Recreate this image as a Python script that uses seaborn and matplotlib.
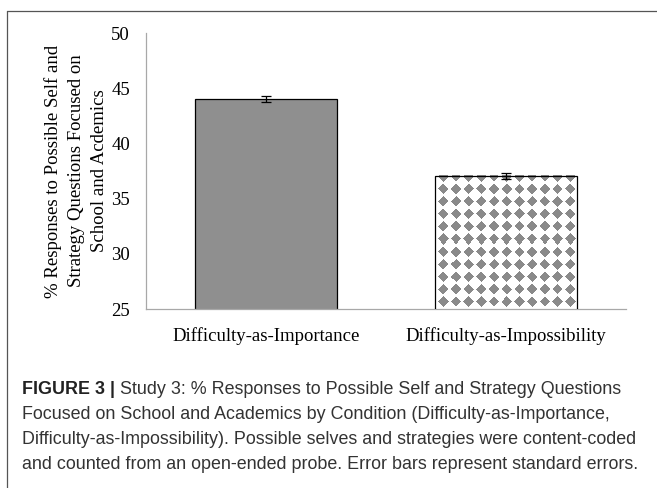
import numpy as np
import pandas as pd
import matplotlib
matplotlib.use("Agg")
import matplotlib.pyplot as plt
import seaborn as sns

# ---- data ----
conditions = ["Difficulty-as-Importance", "Difficulty-as-Impossibility"]
percent_school = [44.0, 37.05]
std_err = [0.27, 0.27]
y_ticks = [25, 30, 35, 40, 45, 50]
y_label = "% Responses to Possible Self and\nStrategy Questions Focused on\nSchool and Acdemics"
caption_bold = "FIGURE 3 |"
caption_lines = [
    " Study 3: % Responses to Possible Self and Strategy Questions",
    "Focused on School and Academics by Condition (Difficulty-as-Importance,",
    "Difficulty-as-Impossibility). Possible selves and strategies were content-coded",
    "and counted from an open-ended probe. Error bars represent standard errors.",
]

df = pd.DataFrame({"condition": conditions, "percent": percent_school})

sns.set_theme(style="white")
serif = ["Liberation Serif", "DejaVu Serif"]
sans = ["Liberation Sans", "DejaVu Sans"]

W, H, DPI = 657, 488, 100
fig = plt.figure(figsize=(W / DPI, H / DPI), dpi=DPI)
fig.patch.set_facecolor("white")

ax = fig.add_axes([146 / W, 1 - 309 / H, 480 / W, 276 / H])
gray = "#8f8f8f"
sns.barplot(data=df, x="condition", y="percent", hue="condition",
            palette=[gray, "white"], width=0.59, saturation=1,
            edgecolor="black", linewidth=0.9, legend=False, ax=ax, zorder=2)

bars = list(ax.patches)
centers = [b.get_x() + b.get_width() / 2 for b in bars]
ax.errorbar(centers, percent_school, yerr=std_err, fmt="none", ecolor="black",
            elinewidth=0.9, capsize=3.5, capthick=0.9, zorder=5)

ymin, ymax = 25, 50
ax.set_ylim(ymin, ymax)
ax.set_xlim(-0.5, 1.5)
ax.set_yticks(y_ticks)
ax.set_xlabel("")
ax.set_ylabel(y_label, fontsize=13.5, family=serif, color="black", linespacing=1.45)
ax.yaxis.label.set_va("center")
ax.yaxis.set_label_coords(-0.146, 0.5)
ax.tick_params(axis="both", length=0, labelsize=13.5, colors="black")
ax.tick_params(axis="y", pad=11.5)
ax.tick_params(axis="x", pad=13)
for lab in ax.get_xticklabels() + ax.get_yticklabels():
    lab.set_family(serif)
for s in ["top", "right"]:
    ax.spines[s].set_visible(False)
for s in ["left", "bottom"]:
    ax.spines[s].set_color("#a8a8a8")
    ax.spines[s].set_linewidth(0.9)
ax.set_facecolor("white")

# ---- diamond texture for the second bar (visible part only) ----
fig.canvas.draw()
b2 = bars[1]
xb0, xb1 = b2.get_x(), b2.get_x() + b2.get_width()
yb0 = max(b2.get_y(), ymin)
yb1 = b2.get_y() + b2.get_height()
(px0, py0) = ax.transData.transform((xb0, yb0))
(px1, py1) = ax.transData.transform((xb1, yb1))
pw = int(round(px1 - px0))
ph = int(round(py1 - py0))
xs = np.arange(pw) + 0.5
ys = np.arange(ph) + 0.5
XX, YY = np.meshgrid(xs, ys)
period_x, period_y, half_diag = 12.7, 12.4, 5.3
x0, y0 = 8.3, 1.5
dx = np.abs(np.mod(XX - x0 + period_x / 2, period_x) - period_x / 2)
dy = np.abs(np.mod(YY - y0 + period_y / 2, period_y) - period_y / 2)
inside = (dx + dy) <= half_diag
img = np.ones((ph, pw, 3))
img[inside] = np.array([138, 138, 138]) / 255.0
ax.imshow(img, extent=(xb0, xb1, yb0, yb1), origin="upper",
          interpolation="nearest", aspect="auto", zorder=2.5)
b2.set_facecolor("none")
b2.set_zorder(3)
ax.set_xlim(-0.5, 1.5)
ax.set_ylim(ymin, ymax)

# ---- frame lines ----
fig.add_artist(plt.Line2D([7 / W, 1.0], [1 - 11 / H, 1 - 11 / H],
                          transform=fig.transFigure, color="#555555", lw=0.9))
fig.add_artist(plt.Line2D([7 / W, 7 / W], [1 - 11 / H, 0.0],
                          transform=fig.transFigure, color="#555555", lw=0.9))

# ---- caption ----
renderer = fig.canvas.get_renderer()
probe = fig.text(0, 0, caption_lines[3], fontsize=10, family=sans)
wpx = probe.get_window_extent(renderer).width
probe.remove()
cap_size = 10 * 619 / wpx
baselines = [394.5, 419.3, 444.0, 468.8]
tb = fig.text(22 / W, 1 - baselines[0] / H, caption_bold, fontsize=cap_size,
              family=sans, weight="bold", color="#222222", va="baseline")
bw = tb.get_window_extent(renderer).x1
fig.text(bw / W, 1 - baselines[0] / H, caption_lines[0], fontsize=cap_size,
         family=sans, color="#333333", va="baseline")
for i in range(1, 4):
    fig.text(22 / W, 1 - baselines[i] / H, caption_lines[i], fontsize=cap_size,
             family=sans, color="#333333", va="baseline")

fig.savefig("out.png", dpi=DPI)
